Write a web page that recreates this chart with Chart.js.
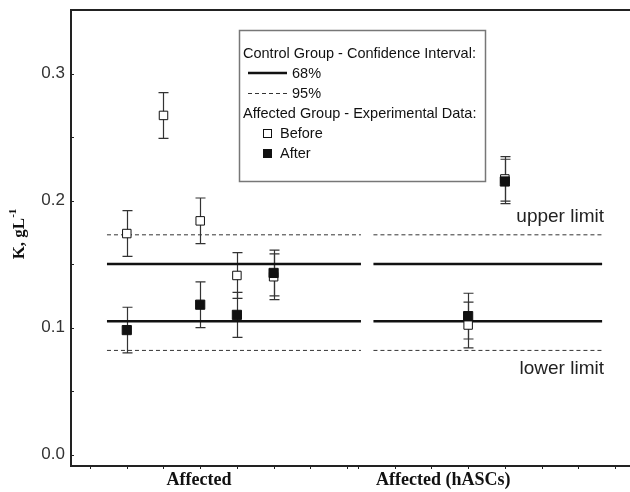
<!DOCTYPE html>
<html>
<head>
  <title>K before / after</title>
  <style>
    body { margin: 0; background: #fff; }
    canvas { display: block; }
  </style>
</head>
<body>
<canvas id="chart" width="630" height="492"></canvas>
<script src="https://cdn.jsdelivr.net/npm/chart.js"></script>
<script>
  // group labels and their position on the x scale
  const groups = ['Affected', 'Affected (hASCs)'];
  const groupX = [2.97, 9.62];

  // affected group, experimental data
  const beforeX = [1, 2, 3, 4, 5, 10.3, 11.3];
  const beforeK = [0.174, 0.267, 0.184, 0.141, 0.140, 0.102, 0.217];
  const beforeErr = [0.018, 0.018, 0.018, 0.018, 0.018, 0.018, 0.0175];

  const afterX = [1, 3, 4, 5, 10.3, 11.3];
  const afterK = [0.098, 0.118, 0.110, 0.143, 0.109, 0.215];
  const afterErr = [0.018, 0.018, 0.0177, 0.018, 0.018, 0.0175];

  // control group confidence intervals (lower, upper)
  const ci68 = [0.105, 0.150];
  const ci95 = [0.082, 0.173];
  const segments = [[0.46, 7.38], [7.72, 13.95]];

  const yTicks = [0, 0.05, 0.1, 0.15, 0.2, 0.25, 0.3];
  const xTicks = [0, 1, 2, 3, 4, 5, 6, 7, 7.3, 8.3, 9.3, 10.3, 11.3, 12.3, 13.3, 14.3];

  const SANS = '"Liberation Sans", Arial, sans-serif';
  const SERIF = '"Liberation Serif", "Times New Roman", serif';

  function limitSets(values, dashed) {
    const out = [];
    values.forEach(v => {
      segments.forEach(s => {
        out.push({
          type: 'line',
          data: [{ x: s[0], y: v }, { x: s[1], y: v }],
          borderColor: dashed ? '#333' : '#111',
          borderWidth: dashed ? 1 : 2.6,
          borderDash: dashed ? [4, 3] : [],
          pointRadius: 0,
          showLine: true,
          order: 3
        });
      });
    });
    return out;
  }

  // error bars + frame + legend + annotations
  const extras = {
    id: 'extras',
    beforeDatasetsDraw(chart) {
      const ctx = chart.ctx, xs = chart.scales.x, ys = chart.scales.y;
      ctx.save();
      ctx.strokeStyle = '#333';
      ctx.lineWidth = 1.2;
      chart.data.datasets.forEach(ds => {
        if (!ds.err) return;
        ds.data.forEach((p, i) => {
          const px = Math.round(xs.getPixelForValue(p.x)) + 0.5;
          const top = ys.getPixelForValue(p.y + ds.err[i]);
          const bot = ys.getPixelForValue(p.y - ds.err[i]);
          ctx.beginPath();
          ctx.moveTo(px, top); ctx.lineTo(px, bot);
          ctx.moveTo(px - 5, top); ctx.lineTo(px + 5, top);
          ctx.moveTo(px - 5, bot); ctx.lineTo(px + 5, bot);
          ctx.stroke();
        });
      });
      ctx.restore();
    },
    afterDraw(chart) {
      const ctx = chart.ctx, xs = chart.scales.x, ys = chart.scales.y;
      const a = chart.chartArea;
      ctx.save();

      // top frame line
      ctx.strokeStyle = '#222';
      ctx.lineWidth = 2;
      ctx.beginPath();
      ctx.moveTo(a.left - 1, a.top);
      ctx.lineTo(chart.width, a.top);
      ctx.stroke();

      // inward ticks on y, small ticks on x
      ctx.lineWidth = 1;
      ctx.beginPath();
      yTicks.forEach(v => {
        const py = Math.round(ys.getPixelForValue(v)) + 0.5;
        ctx.moveTo(a.left, py); ctx.lineTo(a.left + 3, py);
      });
      xTicks.forEach(v => {
        const px = Math.round(xs.getPixelForValue(v)) + 0.5;
        ctx.moveTo(px, a.bottom); ctx.lineTo(px, a.bottom + 3);
      });
      ctx.stroke();

      // group labels
      ctx.fillStyle = '#111';
      ctx.font = 'bold 18px ' + SERIF;
      ctx.textAlign = 'center';
      ctx.textBaseline = 'middle';
      groups.forEach((g, i) => ctx.fillText(g, xs.getPixelForValue(groupX[i]), 480));

      // y title with superscript
      ctx.save();
      ctx.translate(20, 234);
      ctx.rotate(-Math.PI / 2);
      const main = 'K, gL';
      ctx.font = 'bold 17px ' + SERIF;
      const w1 = ctx.measureText(main).width;
      ctx.font = 'bold 11px ' + SERIF;
      const w2 = ctx.measureText('-1').width;
      const x0 = -(w1 + w2) / 2;
      ctx.textAlign = 'left';
      ctx.font = 'bold 17px ' + SERIF;
      ctx.fillText(main, x0, 0);
      ctx.font = 'bold 11px ' + SERIF;
      ctx.fillText('-1', x0 + w1, -7);
      ctx.restore();

      // limit labels
      ctx.font = '19px ' + SANS;
      ctx.fillStyle = '#222';
      ctx.textAlign = 'right';
      ctx.fillText('upper limit', 604, 217);
      ctx.fillText('lower limit', 604, 369);

      // legend box
      ctx.strokeStyle = '#777';
      ctx.lineWidth = 1.5;
      ctx.strokeRect(239.5, 30.5, 246, 151);
      ctx.font = '14.5px ' + SANS;
      ctx.fillStyle = '#111';
      ctx.textAlign = 'left';
      ctx.fillText('Control Group - Confidence Interval:', 243, 54);
      ctx.strokeStyle = '#111';
      ctx.lineWidth = 2.6;
      ctx.beginPath(); ctx.moveTo(248, 73); ctx.lineTo(287, 73); ctx.stroke();
      ctx.fillText('68%', 292, 74);
      ctx.lineWidth = 1;
      ctx.strokeStyle = '#333';
      ctx.setLineDash([4, 3]);
      ctx.beginPath(); ctx.moveTo(248, 93.5); ctx.lineTo(288, 93.5); ctx.stroke();
      ctx.setLineDash([]);
      ctx.fillText('95%', 292, 94);
      ctx.fillText('Affected Group - Experimental Data:', 243, 114);
      ctx.fillStyle = '#fff';
      ctx.fillRect(263.5, 129.5, 8, 8);
      ctx.strokeStyle = '#111';
      ctx.lineWidth = 1;
      ctx.strokeRect(263.5, 129.5, 8, 8);
      ctx.fillStyle = '#111';
      ctx.fillRect(263, 149, 9, 9);
      ctx.fillText('Before', 280, 134);
      ctx.fillText('After', 280, 154);

      ctx.restore();
    }
  };

  const datasets = [
    ...limitSets(ci68, false),
    ...limitSets(ci95, true),
    {
      label: 'Before',
      data: beforeX.map((x, i) => ({ x: x, y: beforeK[i] })),
      err: beforeErr,
      pointStyle: 'rect',
      pointRadius: 6,
      pointBackgroundColor: '#fff',
      pointBorderColor: '#111',
      pointBorderWidth: 1,
      showLine: false,
      order: 1
    },
    {
      label: 'After',
      data: afterX.map((x, i) => ({ x: x, y: afterK[i] })),
      err: afterErr,
      pointStyle: 'rect',
      pointRadius: 6.5,
      pointBackgroundColor: '#111',
      pointBorderColor: '#111',
      pointBorderWidth: 1,
      showLine: false,
      order: 0
    }
  ];

  new Chart(document.getElementById('chart'), {
    type: 'scatter',
    data: { datasets: datasets },
    options: {
      responsive: false,
      animation: false,
      layout: { autoPadding: false, padding: { top: 10, right: 0, bottom: 0, left: 0 } },
      plugins: { legend: { display: false }, tooltip: { enabled: false } },
      scales: {
        x: {
          type: 'linear',
          min: -0.52,
          max: 14.71,
          grid: { display: false },
          border: { display: true, color: '#222', width: 2 },
          ticks: { display: false },
          afterFit: s => { s.height = 26; }
        },
        y: {
          min: -0.009,
          max: 0.35,
          grid: { display: false },
          border: { display: true, color: '#222', width: 2 },
          afterBuildTicks: s => { s.ticks = yTicks.map(v => ({ value: v })); },
          ticks: {
            color: '#333',
            font: { family: SANS, size: 17 },
            padding: -2,
            callback: v => (Math.abs(v * 10 - Math.round(v * 10)) < 1e-6 ? v.toFixed(1) : '')
          },
          afterFit: s => { s.width = 71; }
        }
      }
    },
    plugins: [extras]
  });
</script>
</body>
</html>
